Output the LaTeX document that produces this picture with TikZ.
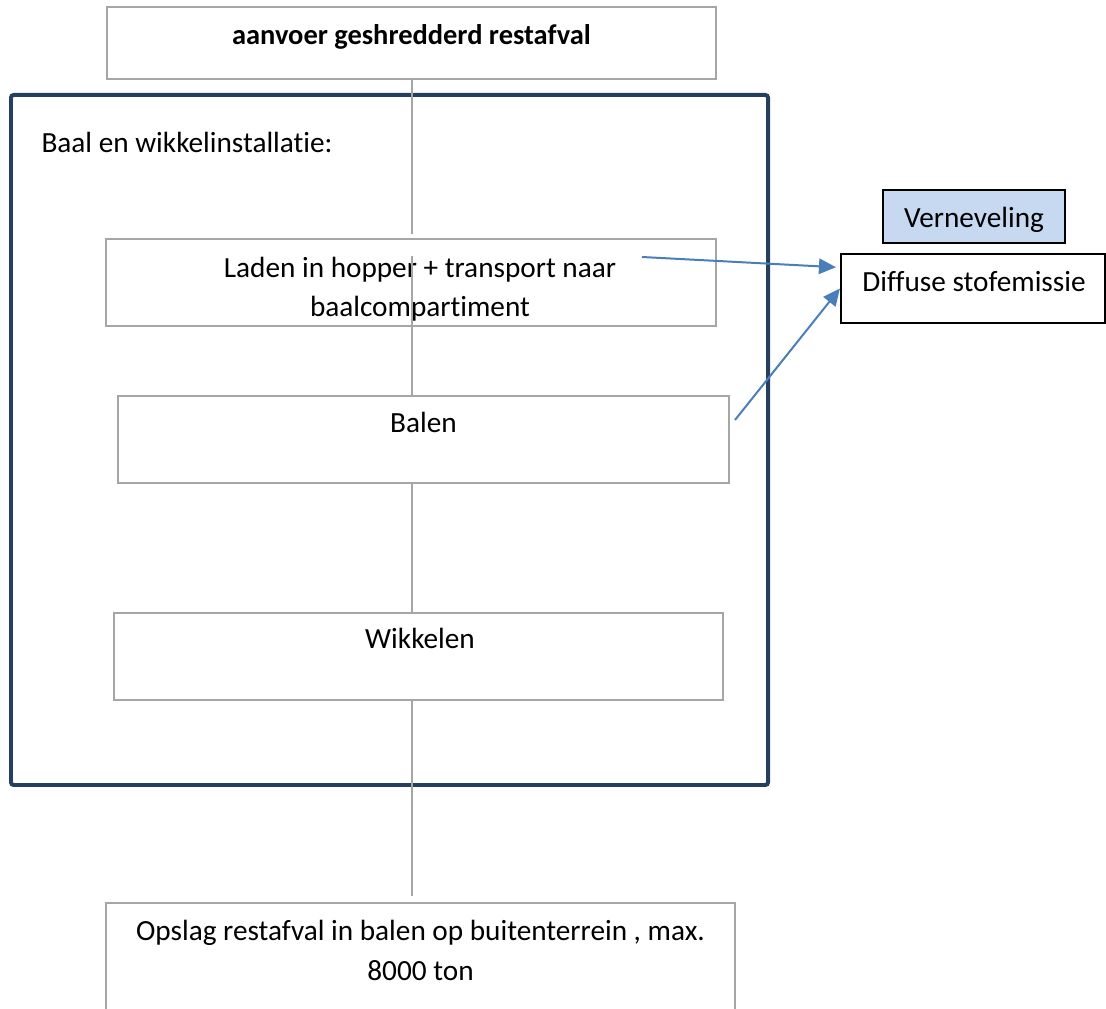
\documentclass[tikz,border=0pt]{standalone}
\usepackage{fontspec}
\setmainfont{Carlito}[Ligatures=NoCommon]
\usepackage{xcolor}
\usetikzlibrary{arrows.meta}
\definecolor{kader}{HTML}{243F60}
\definecolor{grijs}{HTML}{A6A6A6}
\definecolor{pijlblauw}{HTML}{4A7EBB}
\definecolor{lichtblauw}{HTML}{C6D9F1}

\begin{document}
\begin{tikzpicture}[x=0.376pt, y=-0.376pt,
    font=\fontsize{11pt}{14.9pt}\selectfont,
    grijsbox/.style={draw=grijs, line width=0.65pt, minimum height=32.7pt, inner sep=0pt},
    zwartbox/.style={draw=black, line width=0.75pt, inner sep=0pt},
    tekst/.style={anchor=base, inner sep=0pt, align=center},
    lijn/.style={draw=grijs, line width=0.75pt},
    pijl/.style={draw=pijlblauw, line width=0.75pt, -{Triangle[length=6.4pt,width=5.8pt]}}]
    \useasboundingbox (0,0) rectangle (1106,1009);
    % installatie
    \draw [kader, line width=1.5pt, rounded corners=1pt] (11,95) rectangle (768,785);
    \node [anchor=base west, inner sep=0pt] (installatie) at (41,153) {Baal en wikkelinstallatie:};
    % processtappen
    \node [grijsbox, minimum width=229.0pt, minimum height=27.1pt] (aanvoer) at (411.5,43) {};
    \node [tekst, font=\fontsize{10.7pt}{14.7pt}\selectfont\bfseries] (aanvoertxt) at (411.5,45) {aanvoer geshredderd restafval};
    \node [grijsbox, minimum width=229.4pt] (laden) at (411,282.5) {};
    \node [tekst] (ladentxt) at (420,317) {Laden in hopper + transport naar\\baalcompartiment};
    \node [grijsbox, minimum width=229.7pt] (balen) at (423.5,439.5) {};
    \node [tekst] (balentxt) at (423.5,433) {Balen};
    \node [grijsbox, minimum width=229.0pt] (wikkelen) at (418.5,656.5) {};
    \node [tekst] (wikkelentxt) at (420,649) {Wikkelen};
    \node [grijsbox, minimum width=236.5pt, minimum height=51.5pt] (opslag) at (420.5,971.5) {};
    \node [tekst] (opslagtxt) at (420.5,980) {Opslag restafval in balen op buitenterrein , max.\\8000 ton};
    % emissie
    \node [zwartbox, fill=lichtblauw, minimum width=68.4pt, minimum height=19.9pt] (vernev) at (974,216.5) {};
    \node [tekst] (vernevtxt) at (974,228) {Verneveling};
    \node [zwartbox, minimum width=99.3pt, minimum height=25.9pt] (diffuus) at (973,288.5) {};
    \node [tekst] (diffuustxt) at (974,292) {Diffuse stofemissie};
    % verbindingen
    \draw [lijn] (aanvoer.south) -- ([yshift=1.5pt]aanvoer.south |- laden.north);
    \draw [lijn] ([yshift=-6.8pt]aanvoer.south |- laden.north) -- (aanvoer.south |- balen.north);
    \draw [lijn] (aanvoer.south |- balen.south) -- (aanvoer.south |- wikkelen.north);
    \draw [lijn] (aanvoer.south |- wikkelen.south) -- ([yshift=2.3pt]aanvoer.south |- opslag.north);
    \coordinate (uitladen) at (642,257);
    \coordinate (uitbalen) at (735,420);
    \draw [pijl] (uitladen) -- ([xshift=-1.5pt,yshift=8pt]diffuus.west);
    \draw [pijl] (uitbalen) -- (diffuus.west);
\end{tikzpicture}
\end{document}
